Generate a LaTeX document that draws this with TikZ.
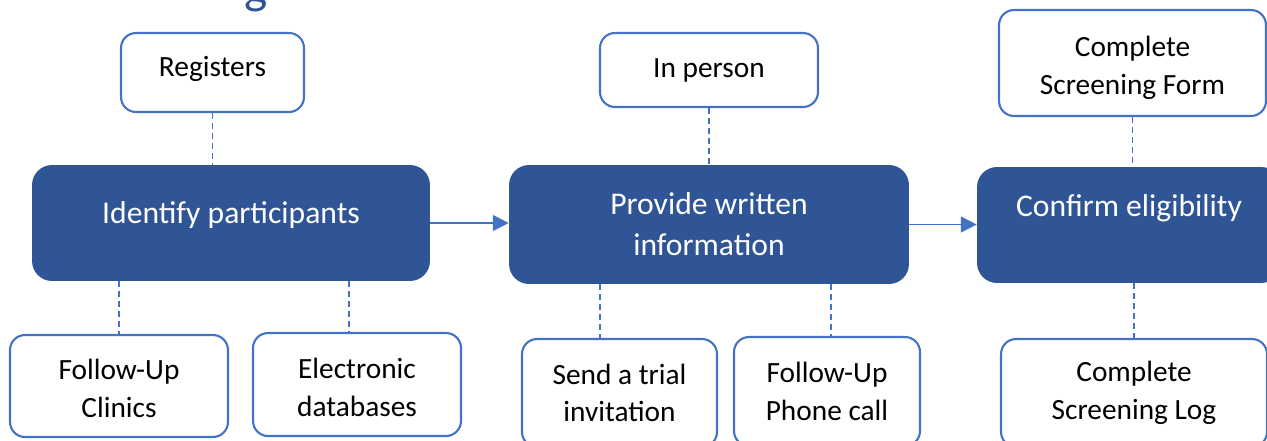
\documentclass[tikz,border=0pt]{standalone}
\usepackage{fontspec}
\setmainfont{Carlito}
\usetikzlibrary{arrows.meta}
\definecolor{dark}{HTML}{2F5597}
\definecolor{accent}{HTML}{4472C4}
\newcommand{\lift}[1]{\rule{0pt}{#1}}
\tikzset{
 subbox/.style={draw=accent, line width=1.2pt, fill=white, rounded corners=0.3cm, align=center, font=\fontsize{16.7}{21.5}\selectfont, inner sep=0pt},
 mainbox/.style={fill=dark, text=white, rounded corners=0.4cm, align=center, font=\fontsize{18}{23.2}\selectfont, inner sep=0pt},
 link/.style={draw=accent, line width=0.6pt, dash pattern=on 3.4pt off 2.3pt},
 flow/.style={draw=accent, line width=1pt, -{Triangle[length=9pt,width=9pt]}},
}
\begin{document}
\begin{tikzpicture}[x=0.02cm,y=-0.02cm]
\useasboundingbox (0,0) rectangle (1267,440);
\clip (0,0) rectangle (1267,440);
\node[text=dark, font=\fontsize{28}{30}\selectfont, anchor=base, inner sep=0pt] (title) at (256,3) {g};

\node[subbox, minimum width=3.66cm, minimum height=1.58cm, text height=12.5pt, text depth=8pt] (reg) at (212.5,72.5) {Registers};
\node[subbox, minimum width=4.36cm, minimum height=1.48cm] (inp) at (709,70) {In person};
\node[subbox, minimum width=5.34cm, minimum height=2.12cm] (form) at (1132.5,63) {\lift{17pt}Complete\\Screening Form};

\node[mainbox, minimum width=7.96cm, minimum height=2.32cm, text height=12pt, text depth=12pt] (ident) at (231,223) {Identify participants};
\node[mainbox, minimum width=8.0cm, minimum height=2.38cm] (prov) at (709,224.5) {Provide written\\information};
\node[mainbox, minimum width=6.08cm, minimum height=2.32cm, text height=12pt, text depth=22pt] (conf) at (1129,225) {Confirm eligibility};

\node[subbox, minimum width=4.36cm, minimum height=2.04cm] (clin) at (119,386) {\lift{14pt}Follow-Up\\Clinics};
\node[subbox, minimum width=4.16cm, minimum height=2.06cm] (elec) at (357,384.5) {\lift{15pt}Electronic\\databases};
\node[subbox, minimum width=3.9cm, minimum height=2.16cm] (send) at (619.5,393) {Send a trial\\invitation};
\node[subbox, minimum width=3.72cm, minimum height=2.18cm] (phone) at (827,391.5) {Follow-Up\\Phone call};
\node[subbox, minimum width=5.32cm, minimum height=2.16cm] (log) at (1134,393) {Complete\\Screening Log};

\draw[link] (reg.south) -- (reg.south |- ident.north);
\draw[link] (inp.south) -- (inp.south |- prov.north);
\draw[link] (form.south) -- (form.south |- conf.north);
\draw[link] (clin.north |- ident.south) -- (clin.north);
\draw[link] ([xshift=-0.16cm]elec.north |- ident.south) -- ([xshift=-0.16cm]elec.north);
\draw[link] ([xshift=-0.39cm]send.north |- prov.south) -- ([xshift=-0.39cm]send.north);
\draw[link] ([xshift=0.08cm]phone.north |- prov.south) -- ([xshift=0.08cm]phone.north);
\draw[link] (log.north |- conf.south) -- (log.north);

\draw[flow] (ident.east) -- (ident.east -| prov.west);
\draw[flow] (prov.east) -- (prov.east -| conf.west);
\end{tikzpicture}
\end{document}
